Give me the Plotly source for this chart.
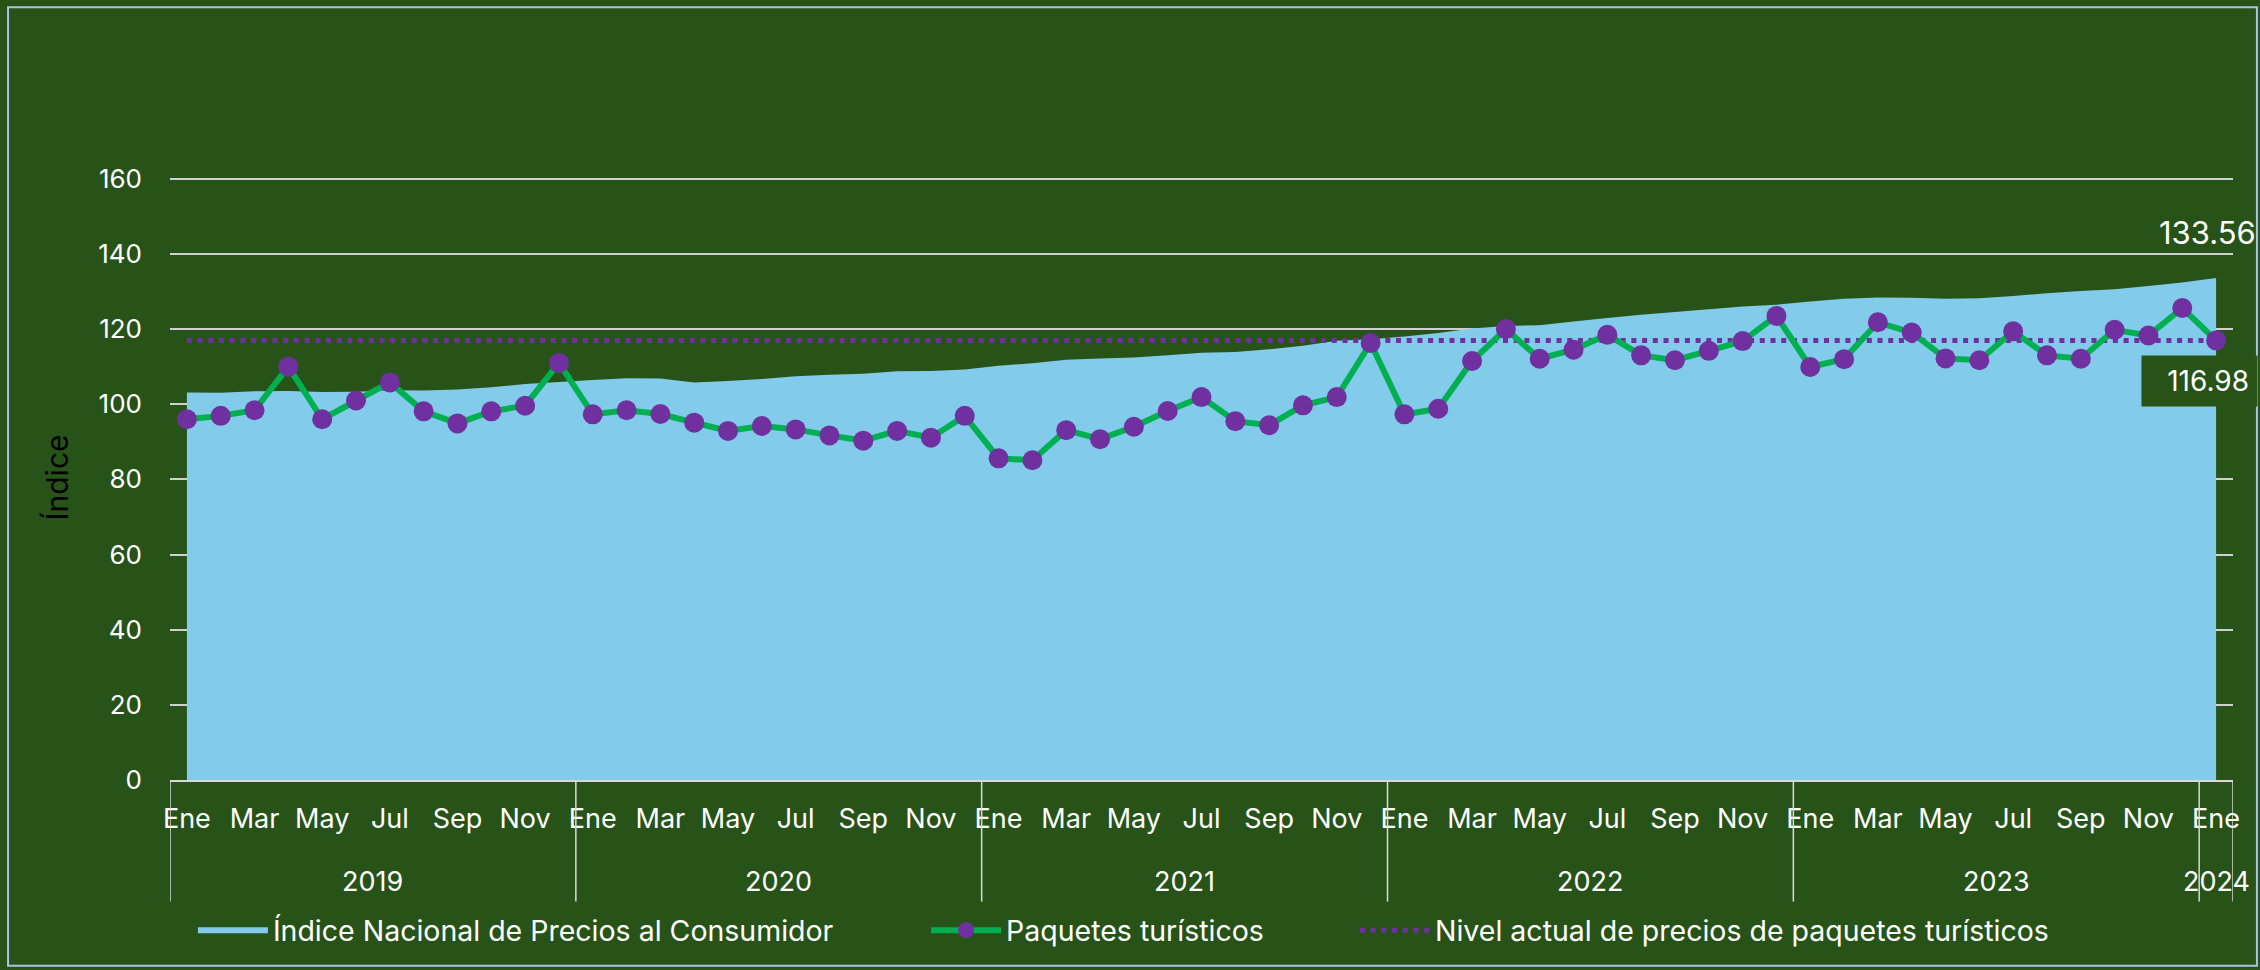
import plotly.graph_objects as go

# ---------------- data ----------------
anios = ["2019", "2020", "2021", "2022", "2023", "2024"]
meses_abrev = ["Ene", "Feb", "Mar", "Abr", "May", "Jun",
               "Jul", "Ago", "Sep", "Oct", "Nov", "Dic"]
meses_por_anio = [12, 12, 12, 12, 12, 1]

inpc = [
    103.11, 103.08, 103.48, 103.53, 103.23, 103.30, 103.69, 103.67, 103.94, 104.50, 105.35, 105.93,
    106.45, 106.89, 106.84, 105.76, 106.16, 106.74, 107.44, 107.87, 108.11, 108.77, 108.86, 109.27,
    110.21, 110.91, 111.82, 112.19, 112.42, 113.02, 113.68, 113.90, 114.60, 115.56, 116.88, 117.31,
    118.00, 118.98, 120.16, 120.81, 121.02, 122.04, 122.95, 123.80, 124.57, 125.28, 126.00, 126.48,
    127.34, 128.05, 128.39, 128.36, 128.08, 128.21, 128.83, 129.55, 130.12, 130.61, 131.45, 132.37,
    133.56,
]

paquetes = [
    96.0, 96.9, 98.4, 110.0, 96.0, 101.0, 105.8, 98.1, 94.9, 98.1, 99.6, 111.0,
    97.3, 98.4, 97.4, 95.1, 92.9, 94.2, 93.3, 91.7, 90.3, 92.9, 91.1, 96.9,
    85.6, 85.1, 93.1, 90.7, 94.0, 98.2, 101.9, 95.5, 94.4, 99.7, 101.9, 116.3,
    97.3, 98.8, 111.5, 120.0, 112.1, 114.5, 118.5, 113.0, 111.7, 114.2, 116.8, 123.5,
    109.9, 112.0, 121.8, 119.1, 112.2, 111.7, 119.4, 113.0, 112.1, 119.8, 118.3, 125.6,
    116.98,
]

nivel_actual = 116.98

y_ticks = [0, 20, 40, 60, 80, 100, 120, 140, 160]

# ---------------- derived category positions ----------------
etiquetas_mes = []
for anio, n in zip(anios, meses_por_anio):
    etiquetas_mes += meses_abrev[:n]
x_idx = list(range(len(etiquetas_mes)))

BG = "#275319"
FONT = "Inter, Liberation Sans, Arial, sans-serif"

fig = go.Figure()

fig.add_trace(go.Scatter(
    x=x_idx, y=inpc, mode="none", fill="tozeroy", fillcolor="#83CBEB",
    name="Índice Nacional de Precios al Consumidor", legend="legend",
))
fig.add_trace(go.Scatter(
    x=[x_idx[0], x_idx[-1]], y=[nivel_actual, nivel_actual], mode="lines",
    line=dict(color="#7030A0", width=5, dash="5px,5.7px"),
    name="Nivel actual de precios de paquetes turísticos", legend="legend3",
))
fig.add_trace(go.Scatter(
    x=x_idx, y=paquetes, mode="lines+markers",
    line=dict(color="#00B050", width=6),
    marker=dict(color="#7030A0", size=20),
    name="Paquetes turísticos", legend="legend2",
))

# year labels and group dividers
annotations = []
shapes = []
start = 0
bounds = [-0.5]
for anio, n in zip(anios, meses_por_anio):
    centre = start + (n - 1) / 2
    annotations.append(dict(
        x=centre, y=-0.168, xref="x", yref="paper", text=anio, showarrow=False,
        xanchor="center", yanchor="middle",
        font=dict(family=FONT, size=27, color="white"),
    ))
    start += n
    bounds.append(start - 0.5)
for b in bounds:
    shapes.append(dict(type="line", xref="x", yref="paper", x0=b, x1=b, y0=0, y1=-0.201,
                       line=dict(color="#D9D9D9", width=1.5)))

# value labels
annotations.append(dict(
    x=x_idx[-1], y=inpc[-1], xref="x", yref="y", text=f"{inpc[-1]:.2f}",
    showarrow=False, xshift=-9, yshift=46,
    font=dict(family=FONT, size=31, color="white"),
))
annotations.append(dict(
    x=x_idx[-1], y=paquetes[-1], xref="x", yref="y", text=f"{paquetes[-1]:.2f}",
    showarrow=False, xanchor="left", yanchor="top", xshift=-75, yshift=-15,
    width=99, align="right", bgcolor=BG, borderpad=8,
    font=dict(family=FONT, size=28, color="white"),
))

# outer border
shapes.append(dict(type="rect", xref="paper", yref="paper",
                   x0=-0.0785, x1=1.0116, y0=-0.307, y1=1.2774,
                   line=dict(color="#A9C4E6", width=2), layer="below"))

leg_common = dict(
    orientation="h", xanchor="left", y=-0.249, yanchor="middle",
    font=dict(family=FONT, size=28.5, color="white"),
    bgcolor="rgba(0,0,0,0)", itemwidth=70,
)

fig.update_layout(
    width=2260, height=970, autosize=False,
    margin=dict(l=170, r=27, t=175, b=190),
    paper_bgcolor=BG, plot_bgcolor=BG,
    font=dict(family=FONT, color="white", size=27),
    showlegend=True,
    legend=dict(x=0.0111, **leg_common),
    legend2=dict(x=0.3665, **leg_common),
    legend3=dict(x=0.5744, **leg_common),
    annotations=annotations,
    shapes=shapes,
)

fig.update_xaxes(
    range=[-0.5, len(x_idx) - 0.5], tickmode="array",
    tickvals=x_idx[::2], ticktext=etiquetas_mes[::2],
    showgrid=False, zeroline=False, showline=True, linecolor="#D9D9D9", linewidth=2,
    ticks="", ticklabelstandoff=14,
    tickfont=dict(family=FONT, size=27, color="white"),
)
fig.update_yaxes(
    range=[0, 161], tickmode="array", tickvals=y_ticks,
    showgrid=True, gridcolor="#D0D0D0", gridwidth=2, zeroline=False,
    ticks="", ticklabelstandoff=27,
    tickfont=dict(family=FONT, size=26, color="white"),
    title=dict(text="Índice", font=dict(family=FONT, size=30, color="black"), standoff=20),
)

fig.write_html("out.html", config={"displayModeBar": False},
               post_script="document.body.style.margin='0';")
